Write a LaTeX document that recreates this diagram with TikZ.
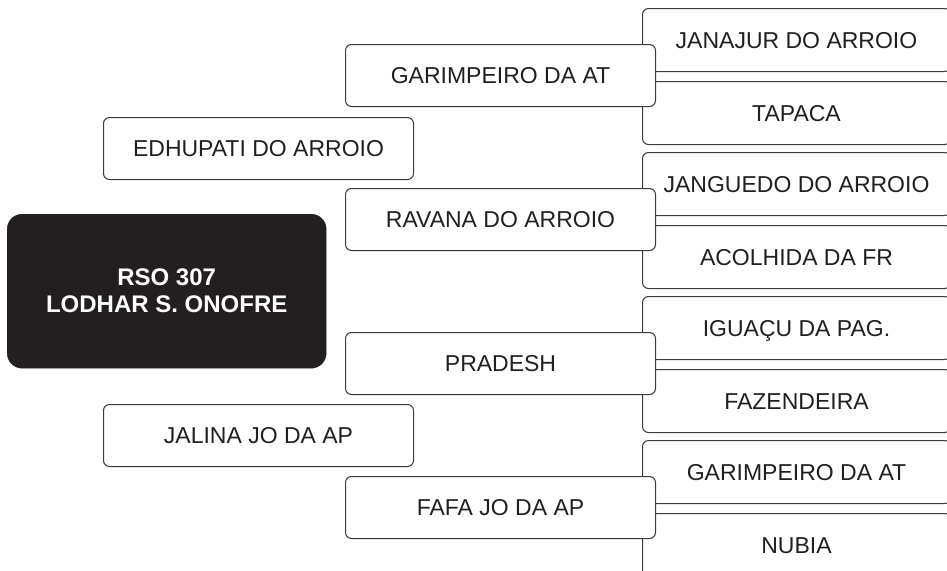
\documentclass[tikz,border=0pt]{standalone}
\usepackage{fontspec}
\setmainfont{Liberation Sans}
\usepackage{xcolor}
\usepackage{tikz}
\usetikzlibrary{positioning}

\definecolor{inkgray}{HTML}{231F20}
\definecolor{linegray}{HTML}{3A3A3A}

\begin{document}
\begin{tikzpicture}[x=1pt, y=-1pt, every node/.style={font=\fontsize{23}{27}\selectfont, text=inkgray}]
		\tikzstyle{leaf}=[draw=linegray, line width=1pt, rounded corners=6pt, fill=white, inner sep=0pt, minimum width=308pt, minimum height=63pt, text height=16.5pt, text depth=0pt]
		\tikzstyle{branch}=[leaf, minimum width=310pt, minimum height=62pt]
		\tikzstyle{root}=[draw=inkgray, fill=inkgray, rounded corners=15pt, inner sep=0pt, minimum width=319pt, minimum height=154pt, align=center, text=white, font=\fontsize{24}{27}\selectfont\bfseries]
		
		\useasboundingbox (0,0) rectangle (947,570);
		\clip (0,0) rectangle (947,570);
		
		\node (janajur) at (642,8) [leaf, anchor=north west] {JANAJUR DO ARROIO};
		\node (tapaca) [leaf, below=9pt of janajur] {TAPACA};
		
		\node (janguedo) at (642,152) [leaf, anchor=north west] {JANGUEDO DO ARROIO};
		\node (acolhida) [leaf, below=9pt of janguedo] {ACOLHIDA DA FR};
		
		\node (iguacu) at (642,296) [leaf, anchor=north west] {IGUAÇU DA PAG.};
		\node (fazendeira) [leaf, below=9pt of iguacu] {FAZENDEIRA};
		
		\node (garimpB) at (642,440) [leaf, anchor=north west] {GARIMPEIRO DA AT};
		\node (nubia) [leaf, below=9pt of garimpB] {NUBIA};
		
		\node (garimpA) at (345,44) [branch, anchor=north west] {GARIMPEIRO DA AT};
		\node (ravana) at (345,188) [branch, anchor=north west] {RAVANA DO ARROIO};
		\node (pradesh) at (345,332) [branch, anchor=north west] {PRADESH};
		\node (fafa) at (345,476) [branch, anchor=north west] {FAFA JO DA AP};
		
		\node (edhupati) at (103,117) [branch, anchor=north west] {EDHUPATI DO ARROIO};
		\node (jalina) at (103,404) [branch, anchor=north west] {JALINA JO DA AP};
		
		\node (rso) at (7,214) [root, anchor=north west] {RSO 307\\LODHAR S. ONOFRE};
		
\end{tikzpicture}
\end{document}
